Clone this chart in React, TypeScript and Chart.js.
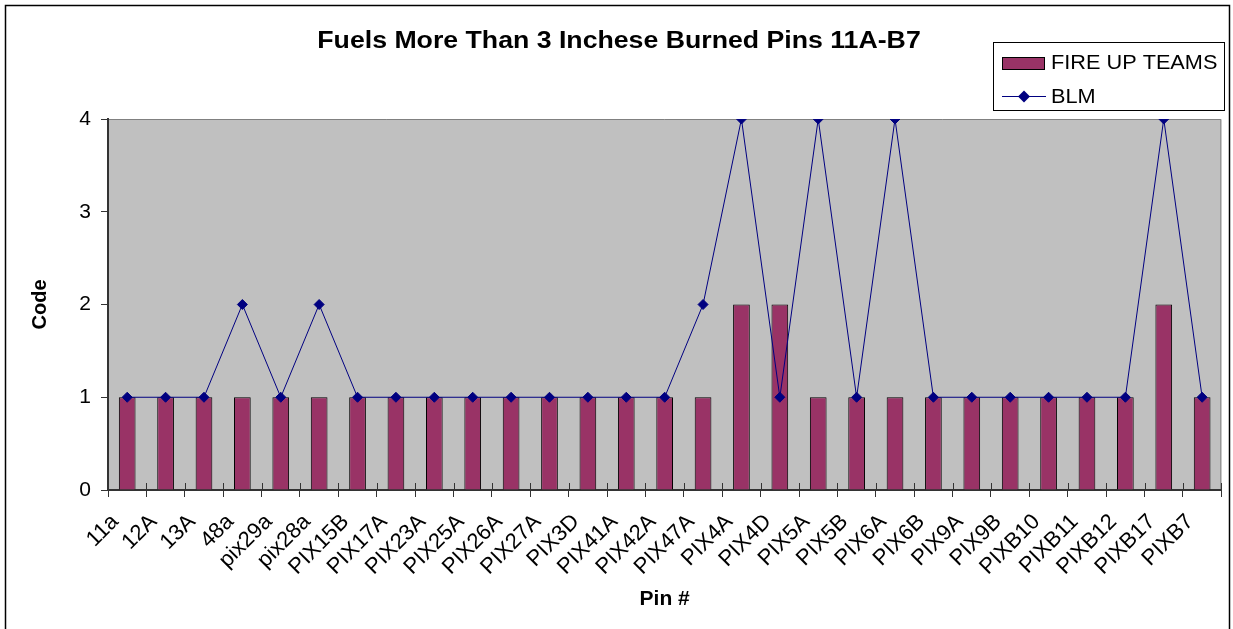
import React, { useEffect, useRef } from "react";
import { Chart, registerables } from "chart.js";

Chart.register(...registerables);

const categories = ["11a","12A","13A","48a","pix29a","pix28a","PIX15B","PIX17A","PIX23A","PIX25A","PIX26A","PIX27A","PIX3D","PIX41A","PIX42A","PIX47A","PIX4A","PIX4D","PIX5A","PIX5B","PIX6A","PIX6B","PIX9A","PIX9B","PIXB10","PIXB11","PIXB12","PIXB17","PIXB7"];
const fireUpTeams = [1,1,1,1,1,1,1,1,1,1,1,1,1,1,1,1,2,2,1,1,1,1,1,1,1,1,1,2,1];
const blm = [1,1,1,2,1,2,1,1,1,1,1,1,1,1,1,2,4,1,4,1,4,1,1,1,1,1,1,4,1];
const yTicks = [0, 1, 2, 3, 4];

const TITLE = "Fuels More Than 3 Inchese Burned Pins 11A-B7";
const FONT = "Arial, 'Liberation Sans', sans-serif";
const BAR_COLOR = "#993366";
const LINE_COLOR = "#000080";

function stretchedText(ctx: any, text: string, x: number, y: number, sx: number, align: string) {
  ctx.save();
  ctx.translate(x, y);
  ctx.scale(sx, 1);
  ctx.textAlign = align;
  ctx.fillText(text, 0, 0);
  ctx.restore();
}

const decorPlugin = {
  id: "decor",
  beforeDraw(chart: any) {
    const { ctx, chartArea } = chart;
    ctx.save();
    ctx.fillStyle = "#ffffff";
    ctx.fillRect(0, 0, chart.width, chart.height);
    ctx.fillStyle = "#C0C0C0";
    ctx.fillRect(chartArea.left, chartArea.top, chartArea.right - chartArea.left, chartArea.bottom - chartArea.top);
    ctx.strokeStyle = "#808080";
    ctx.lineWidth = 1;
    ctx.beginPath();
    ctx.moveTo(chartArea.left, chartArea.top + 0.5);
    ctx.lineTo(chartArea.right - 0.5, chartArea.top + 0.5);
    ctx.lineTo(chartArea.right - 0.5, chartArea.bottom);
    ctx.stroke();
    ctx.restore();
  },
  afterDraw(chart: any) {
    const { ctx, chartArea } = chart;
    const xs = chart.scales.x;
    ctx.save();
    // inner halves of x tick marks (Excel-style crossing ticks)
    ctx.strokeStyle = "#333333";
    ctx.lineWidth = 1;
    ctx.beginPath();
    const step = xs.getPixelForValue(1) - xs.getPixelForValue(0);
    for (let i = 0; i <= categories.length; i++) {
      const px = xs.getPixelForValue(0) + (i - 0.5) * step;
      const x = Math.round(px) + 0.5;
      ctx.moveTo(x, chartArea.bottom - 7);
      ctx.lineTo(x, chartArea.bottom);
    }
    ctx.stroke();

    // outer frame
    ctx.strokeStyle = "#000000";
    ctx.lineWidth = 1.5;
    ctx.strokeRect(5.5, 5.5, 1224, 640);

    // title
    ctx.fillStyle = "#000000";
    ctx.font = `bold 23px ${FONT}`;
    ctx.textBaseline = "middle";
    stretchedText(ctx, TITLE, 619, 42, 1.16, "center");

    // legend
    ctx.fillStyle = "#ffffff";
    ctx.fillRect(993, 42, 231, 68);
    ctx.strokeStyle = "#000000";
    ctx.lineWidth = 1;
    ctx.strokeRect(993.5, 42.5, 231, 68);
    ctx.fillStyle = BAR_COLOR;
    ctx.fillRect(1002, 57, 42, 12);
    ctx.strokeRect(1002.5, 57.5, 42, 12);
    ctx.strokeStyle = LINE_COLOR;
    ctx.beginPath();
    ctx.moveTo(1002, 96.5);
    ctx.lineTo(1046, 96.5);
    ctx.stroke();
    ctx.fillStyle = LINE_COLOR;
    ctx.beginPath();
    ctx.moveTo(1024 - 6, 96.5);
    ctx.lineTo(1024, 90.5);
    ctx.lineTo(1024 + 6, 96.5);
    ctx.lineTo(1024, 102.5);
    ctx.closePath();
    ctx.fill();
    ctx.fillStyle = "#000000";
    ctx.font = `20px ${FONT}`;
    ctx.textBaseline = "middle";
    stretchedText(ctx, "FIRE UP TEAMS", 1051, 63, 1.085, "left");
    stretchedText(ctx, "BLM", 1051, 97, 1.085, "left");
    ctx.restore();
  },
};

export default function App() {
  const ref = useRef<HTMLCanvasElement | null>(null);
  useEffect(() => {
    document.body.style.margin = "0";
    const canvas = ref.current!;
    const chart = new Chart(canvas, {
      type: "bar",
      data: {
        labels: categories,
        datasets: [
          {
            type: "line",
            label: "BLM",
            data: blm,
            borderColor: LINE_COLOR,
            backgroundColor: LINE_COLOR,
            borderWidth: 1,
            pointStyle: "rectRot",
            pointRadius: 5,
            pointBorderWidth: 1,
            pointBorderColor: LINE_COLOR,
            pointBackgroundColor: LINE_COLOR,
            tension: 0,
            order: 1,
          } as any,
          {
            type: "bar",
            label: "FIRE UP TEAMS",
            data: fireUpTeams,
            backgroundColor: BAR_COLOR,
            borderColor: "#000000",
            borderWidth: 1,
            barPercentage: 0.435,
            categoryPercentage: 1,
            order: 2,
          },
        ],
      },
      options: {
        responsive: false,
        animation: false,
        devicePixelRatio: 1,
        layout: { padding: { top: 119, right: 11, left: 0, bottom: 0 } },
        plugins: {
          legend: { display: false },
          title: { display: false },
          tooltip: { enabled: false },
        },
        scales: {
          x: {
            offset: true,
            grid: {
              offset: true,
              drawOnChartArea: false,
              drawTicks: true,
              tickLength: 7,
              color: "#333333",
              lineWidth: 1,
            },
            border: { display: true, color: "#333333", width: 2 },
            ticks: {
              autoSkip: false,
              minRotation: 45,
              maxRotation: 45,
              padding: 12,
              labelOffset: -12,
              color: "#000000",
              font: { family: FONT, size: 22 },
            },
            title: {
              display: true,
              text: "Pin #",
              color: "#000000",
              font: { family: FONT, size: 21, weight: "bold" },
              padding: { top: 0, bottom: 17 },
            },
            afterFit: (s: any) => { s.height = 139; },
          },
          y: {
            min: 0,
            max: 4,
            afterBuildTicks: (s: any) => { s.ticks = yTicks.map((v) => ({ value: v })); },
            grid: {
              drawOnChartArea: false,
              drawTicks: true,
              tickLength: 7,
              color: "#333333",
            },
            border: { display: true, color: "#333333", width: 2 },
            ticks: {
              padding: 10,
              color: "#000000",
              font: { family: FONT, size: 21 },
            },
            title: {
              display: true,
              text: "Code",
              color: "#000000",
              font: { family: FONT, size: 20, weight: "bold" },
              padding: { top: 28, bottom: 0 },
            },
            afterFit: (s: any) => { s.width = 108; },
          },
        },
      },
      plugins: [decorPlugin],
    });
    return () => chart.destroy();
  }, []);
  return (
    <div style={{ width: 1233, height: 629 }}>
      <canvas ref={ref} width={1233} height={629} style={{ display: "block" }} />
    </div>
  );
}
